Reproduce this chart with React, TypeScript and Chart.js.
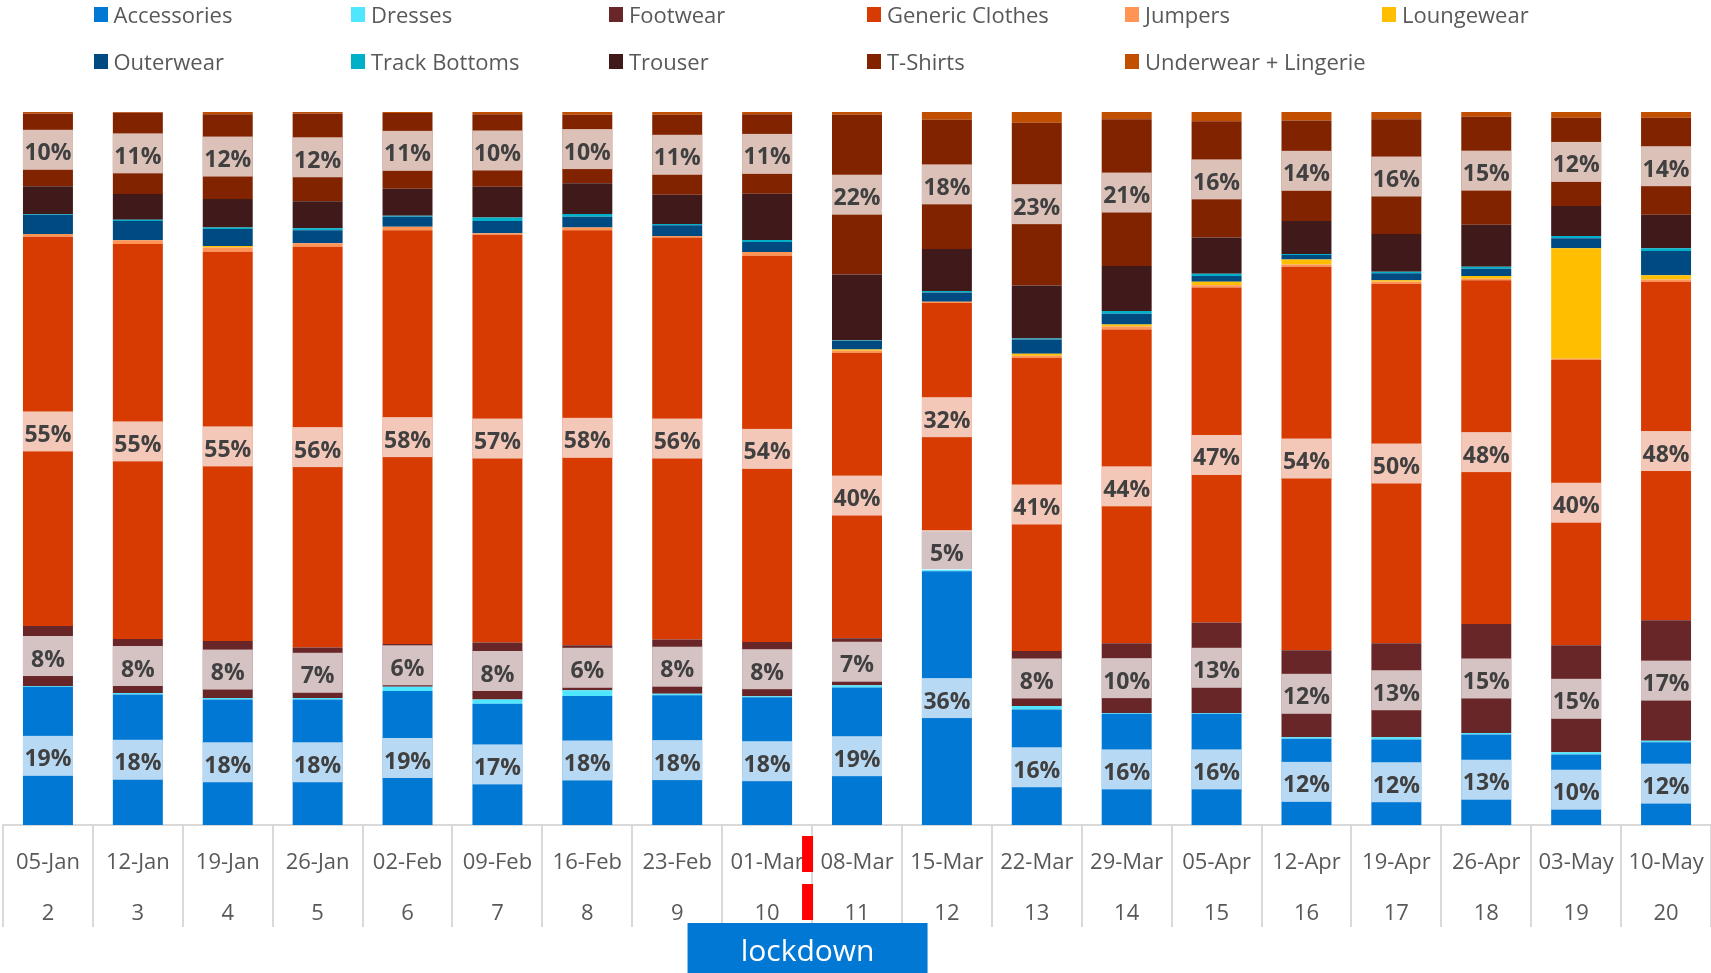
import React, { useEffect, useRef } from 'react';
import { Chart, registerables } from 'chart.js';

Chart.register(...registerables);

// ---------- DATA ----------
const weekDates = ['05-Jan', '12-Jan', '19-Jan', '26-Jan', '02-Feb', '09-Feb', '16-Feb', '23-Feb', '01-Mar', '08-Mar', '15-Mar', '22-Mar', '29-Mar', '05-Apr', '12-Apr', '19-Apr', '26-Apr', '03-May', '10-May'];
const weekNumbers = ['2', '3', '4', '5', '6', '7', '8', '9', '10', '11', '12', '13', '14', '15', '16', '17', '18', '19', '20'];

const accessories = [19.4, 18.3, 17.6, 17.6, 18.8, 17.0, 18.1, 18.2, 17.9, 19.3, 35.6, 16.2, 15.6, 15.6, 12.1, 12.0, 12.7, 9.9, 11.6];
const dresses = [0.1, 0.2, 0.2, 0.2, 0.6, 0.6, 0.8, 0.2, 0.15, 0.3, 0.3, 0.5, 0.1, 0.1, 0.2, 0.3, 0.2, 0.3, 0.2];
const footwear = [8.4, 7.6, 8.0, 7.1, 6.0, 8.0, 6.3, 7.6, 7.6, 6.6, 5.3, 7.7, 9.8, 12.7, 12.2, 13.2, 15.3, 15.0, 16.9];
const genericClothes = [54.6, 55.4, 54.6, 56.2, 58.0, 57.2, 58.2, 56.4, 54.2, 40.0, 32.0, 41.1, 44.0, 47.0, 53.8, 50.4, 48.2, 40.0, 47.5];
const jumpers = [0.4, 0.5, 0.6, 0.5, 0.5, 0.2, 0.4, 0.2, 0.5, 0.3, 0.2, 0.3, 0.4, 0.3, 0.3, 0.3, 0.2, 0.2, 0.3];
const loungewear = [0, 0, 0.2, 0, 0, 0, 0, 0, 0, 0.2, 0, 0.3, 0.3, 0.5, 0.7, 0.2, 0.4, 15.5, 0.6];
const outerwear = [2.7, 2.7, 2.4, 1.8, 1.4, 1.7, 1.5, 1.5, 1.4, 1.2, 1.3, 2.0, 1.5, 0.8, 0.65, 1.0, 1.0, 1.4, 3.4];
const trackBottoms = [0.1, 0.2, 0.2, 0.3, 0.15, 0.5, 0.4, 0.2, 0.3, 0.1, 0.2, 0.15, 0.4, 0.3, 0.15, 0.2, 0.3, 0.3, 0.4];
const trouser = [3.9, 3.6, 4.0, 3.8, 3.8, 4.3, 4.3, 4.1, 6.5, 9.2, 5.9, 7.4, 6.3, 5.1, 4.6, 5.3, 5.9, 4.2, 4.7];
const tShirts = [10.2, 11.4, 11.9, 12.3, 10.6, 10.2, 9.6, 11.2, 11.15, 22.4, 18.1, 22.85, 20.6, 16.3, 14.1, 16.1, 15.15, 12.4, 13.6];
const underwear = [0.2, 0.1, 0.3, 0.2, 0.15, 0.3, 0.4, 0.4, 0.3, 0.4, 1.1, 1.5, 1.0, 1.3, 1.2, 1.0, 0.65, 0.8, 0.8];

const seriesNames = ['Accessories', 'Dresses', 'Footwear', 'Generic Clothes', 'Jumpers', 'Loungewear', 'Outerwear', 'Track Bottoms', 'Trouser', 'T-Shirts', 'Underwear + Lingerie'];
const seriesValues = [accessories, dresses, footwear, genericClothes, jumpers, loungewear, outerwear, trackBottoms, trouser, tShirts, underwear];
const seriesColors = ['#0078D4', '#50E6FF', '#692628', '#D83B01', '#FF9454', '#FFBF00', '#004A82', '#00B0C8', '#401A1A', '#822300', '#C24E00'];
const labelledSeries = ['Accessories', 'Footwear', 'Generic Clothes', 'T-Shirts'];
const lockdownAfter = '01-Mar';
const lockdownText = 'lockdown';

const FONT = '"Open Sans", "Noto Sans", sans-serif';

const overlayPlugin = {
  id: 'overlayPlugin',
  afterDatasetsDraw(chart: any) {
    const ctx = chart.ctx;
    chart.data.datasets.forEach((ds: any, i: number) => {
      if (!labelledSeries.includes(ds.label)) return;
      const meta = chart.getDatasetMeta(i);
      meta.data.forEach((el: any, j: number) => {
        const { x, y, base, width } = el.getProps(['x', 'y', 'base', 'width'], true);
        const cy = (y + base) / 2;
        const h = 40;
        ctx.save();
        ctx.fillStyle = 'rgba(255,255,255,0.72)';
        ctx.fillRect(x - width / 2, cy - h / 2, width, h);
        ctx.fillStyle = '#404040';
        ctx.font = 'bold 23px ' + FONT;
        ctx.textAlign = 'center';
        ctx.textBaseline = 'middle';
        ctx.fillText(Math.round(ds.data[j]) + '%', x, cy + 4);
        ctx.restore();
      });
    });
  },
  afterDraw(chart: any) {
    const ctx = chart.ctx;
    const xs = chart.scales.x;
    const i = weekDates.indexOf(lockdownAfter);
    const xm = (xs.getPixelForValue(i) + xs.getPixelForValue(i + 1)) / 2 - 4.5;
    ctx.save();
    ctx.strokeStyle = '#FF0000';
    ctx.lineWidth = 11;
    ctx.setLineDash([36, 12]);
    ctx.beginPath();
    ctx.moveTo(xm, xs.top + 11);
    ctx.lineTo(xm, xs.top + 95);
    ctx.stroke();
    ctx.setLineDash([]);
    ctx.fillStyle = '#0078D4';
    ctx.fillRect(xm - 120, xs.top + 98, 240, 50);
    ctx.fillStyle = '#FFFFFF';
    ctx.font = '30px ' + FONT;
    ctx.textAlign = 'center';
    ctx.textBaseline = 'middle';
    ctx.fillText(lockdownText, xm, xs.top + 127);
    ctx.restore();
  },
};

function Legend() {
  const colX = [93.5, 351, 609, 867, 1125, 1382];
  const rowY = [14, 61];
  return (
    <>
      {seriesNames.map((name, k) => {
        const row = Math.floor(k / 6);
        const col = k % 6;
        return (
          <div
            key={name}
            style={{
              position: 'absolute',
              left: colX[col],
              top: rowY[row] - 16,
              height: 32,
              display: 'flex',
              alignItems: 'center',
              fontFamily: FONT,
              fontSize: 22,
              color: '#595959',
              whiteSpace: 'nowrap',
            }}
          >
            <span style={{ display: 'inline-block', width: 14, height: 15, background: seriesColors[k], marginRight: 6 }} />
            <span>{name}</span>
          </div>
        );
      })}
    </>
  );
}

export default function App() {
  const ref = useRef<HTMLCanvasElement>(null);

  useEffect(() => {
    if (!ref.current) return;
    const datasets = seriesNames.map((name, k) => ({
      label: name,
      data: seriesValues[k],
      backgroundColor: seriesColors[k],
      borderWidth: 0,
      categoryPercentage: 0.556,
      barPercentage: 1,
    }));
    const chart = new Chart(ref.current, {
      type: 'bar',
      data: { labels: weekDates, datasets },
      plugins: [overlayPlugin],
      options: {
        animation: false,
        responsive: false,
        layout: { padding: { top: 112, left: 3, right: 0, bottom: 0 } },
        plugins: {
          legend: { display: false },
          tooltip: { enabled: false },
        },
        scales: {
          x: {
            stacked: true,
            grid: {
              offset: true,
              drawOnChartArea: false,
              drawTicks: true,
              tickLength: 102,
              color: '#D9D9D9',
              lineWidth: 2,
            },
            border: { display: true, color: '#D9D9D9', width: 2 },
            ticks: {
              autoSkip: false,
              maxRotation: 0,
              minRotation: 0,
              padding: -89.5,
              color: '#595959',
              font: { family: FONT, size: 22, lineHeight: 51 / 22 },
              callback: (_v: any, idx: number) => [weekDates[idx], weekNumbers[idx]],
            },
            afterFit: (scale: any) => {
              scale.height = 148;
            },
          },
          y: {
            stacked: true,
            display: false,
            min: 0,
            max: 100,
          },
        },
      },
    } as any);
    return () => chart.destroy();
  }, []);

  return (
    <div style={{ position: 'fixed', left: 0, top: 0, width: 1711, height: 973, background: '#fff', overflow: 'hidden' }}>
      <canvas ref={ref} width={1711} height={973} style={{ position: 'absolute', left: 0, top: 0 }} />
      <Legend />
    </div>
  );
}
